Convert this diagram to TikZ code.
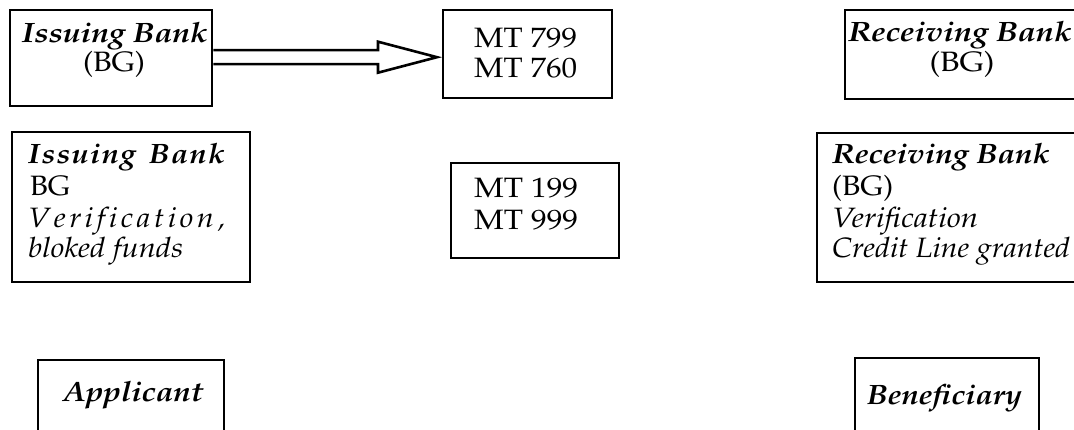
\documentclass[tikz,border=0pt]{standalone}
\usepackage[T1]{fontenc}
\usepackage{mathpazo}
\usetikzlibrary{calc}
\newcommand{\fitw}[2]{\resizebox{#1}{\height}{#2}}
\newcommand{\bim}{\bfseries\itshape}
\begin{document}
\begin{tikzpicture}[x=1pt,y=-1pt,
  box/.style={draw, line width=2.4pt, inner sep=0, anchor=north west},
  ln/.style={anchor=base west, inner sep=0, font=\fontsize{28}{32}\selectfont},
  lnc/.style={anchor=base, inner sep=0, font=\fontsize{28}{32}\selectfont},
  arr/.style={draw, line width=2.6pt, line join=miter, fill=white},
]
\useasboundingbox (0,0) rectangle (1074,430);
\clip (0,0) rectangle (1074,430);
% boxes
\node[box, minimum width=202pt, minimum height=96pt] (b1) at (9,9) {};
\node[box, minimum width=169pt, minimum height=88pt] (b2) at (442,9) {};
\node[box, minimum width=250pt, minimum height=89pt] (b3) at (844,9) {};
\node[box, minimum width=238pt, minimum height=150pt] (b4) at (11,131) {};
\node[box, minimum width=168pt, minimum height=95pt] (b5) at (450,162) {};
\node[box, minimum width=272pt, minimum height=149pt] (b6) at (816,132) {};
\node[box, minimum width=186pt, minimum height=90pt] (b7) at (37,359) {};
\node[box, minimum width=184pt, minimum height=90pt] (b8) at (854,357) {};
% texts
\node[lnc] (t1a) at (115,43) {\fitw{186pt}{\bim Issuing Bank}};
\node[lnc] (t1b) at (114,72) {\fitw{62pt}{(BG)}};
\node[ln] (t2a) at (474,48) {\fitw{103pt}{MT 799}};
\node[ln] (t2b) at (474,78) {\fitw{103pt}{MT 760}};
\node[lnc] (t3a) at (960,42) {\fitw{224pt}{\bim Receiving Bank}};
\node[lnc] (t3b) at (962,72) {\fitw{65pt}{(BG)}};
\node[ln] (t4a) at (28,164) {\fitw{197pt}{\makebox[180pt][s]{\bim I\hfil s\hfil s\hfil u\hfil i\hfil n\hfil g\hskip 0.3em plus 3fil B\hfil a\hfil n\hfil k}}};
\node[ln] (t4b) at (30,196) {\fitw{40pt}{BG}};
\node[ln] (t4c) at (28,228) {\fitw{197pt}{\makebox[180pt][s]{\itshape V\hfil e\hfil r\hfil i\hfil f\hfil i\hfil c\hfil a\hfil t\hfil i\hfil o\hfil n\hfil ,}}};
\node[ln] (t4d) at (28,258) {\fitw{155pt}{\itshape bloked funds}};
\node[ln] (t5a) at (474,198) {\fitw{104pt}{MT 199}};
\node[ln] (t5b) at (474,230) {\fitw{104pt}{MT 999}};
\node[ln] (t6a) at (832,164) {\fitw{218pt}{\bim Receiving Bank}};
\node[ln] (t6b) at (832,196) {\fitw{61pt}{(BG)}};
\node[ln] (t6c) at (832,228) {\fitw{146pt}{\itshape Verification}};
\node[ln] (t6d) at (832,258) {\fitw{238pt}{\itshape Credit Line granted}};
\node[ln] (t7) at (63,401) {\fitw{140pt}{\bim Applicant}};
\node[ln] (t8) at (867,404) {\fitw{155pt}{\bim Beneficiary}};
% arrow
\coordinate (tip) at ($(b2.west)+(-5,3)$);
\draw[arr] ($(b1.east|-tip)+(0,-7)$) -- ($(tip)+(-59,-7)$) -- ($(tip)+(-59,-15.5)$) -- (tip) -- ($(tip)+(-59,15.5)$) -- ($(tip)+(-59,7)$) -- ($(b1.east|-tip)+(0,7)$);
\end{tikzpicture}
\end{document}
